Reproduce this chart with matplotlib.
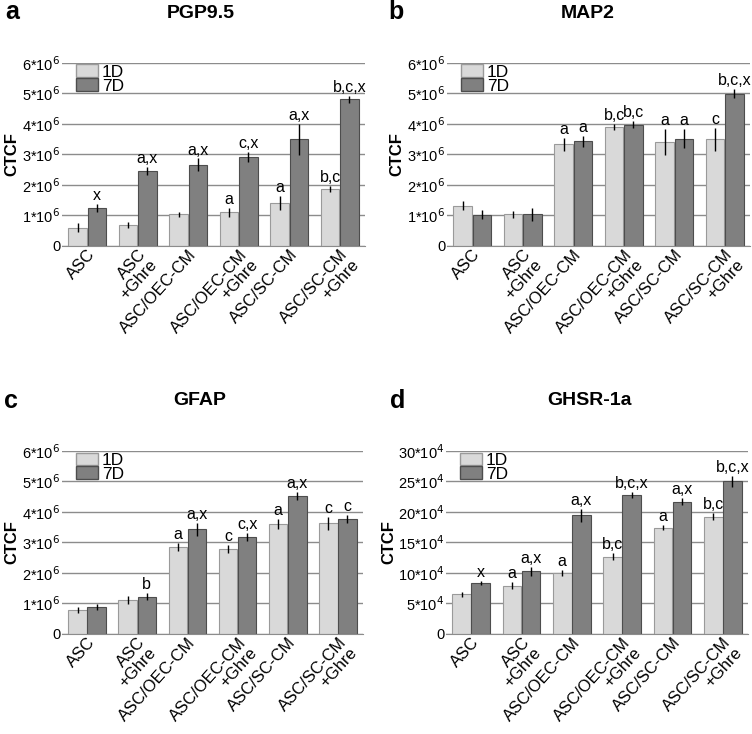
import numpy as np
import matplotlib
matplotlib.use('Agg')
import matplotlib.pyplot as plt
from matplotlib.patches import Patch

plt.rcParams['font.family'] = ['Liberation Sans', 'DejaVu Sans']

groups = ['ASC', 'ASC\n+Ghre', 'ASC/OEC-CM', 'ASC/OEC-CM\n+Ghre',
          'ASC/SC-CM', 'ASC/SC-CM\n+Ghre']

# PGP9.5 (x10^6)
pgp_1d = [0.59, 0.67, 1.03, 1.09, 1.40, 1.85]
pgp_1d_err = [0.14, 0.10, 0.08, 0.15, 0.22, 0.10]
pgp_7d = [1.23, 2.45, 2.66, 2.91, 3.49, 4.80]
pgp_7d_err = [0.13, 0.14, 0.20, 0.15, 0.50, 0.12]
pgp_1d_lab = ['', '', '', 'a', 'a', 'b,c']
pgp_7d_lab = ['x', 'a,x', 'a,x', 'c,x', 'a,x', 'b,c,x']

# MAP2 (x10^6)
map_1d = [1.31, 1.03, 3.32, 3.89, 3.41, 3.49]
map_1d_err = [0.14, 0.12, 0.20, 0.10, 0.43, 0.37]
map_7d = [1.02, 1.03, 3.42, 3.97, 3.51, 4.99]
map_7d_err = [0.16, 0.22, 0.17, 0.12, 0.32, 0.14]
map_1d_lab = ['', '', 'a', 'b,c', 'a', 'c']
map_7d_lab = ['', '', 'a', 'b,c', 'a', 'b,c,x']

# GFAP (x10^6)
gfap_1d = [0.78, 1.11, 2.84, 2.78, 3.61, 3.62]
gfap_1d_err = [0.10, 0.13, 0.14, 0.12, 0.16, 0.21]
gfap_7d = [0.88, 1.22, 3.43, 3.18, 4.51, 3.76]
gfap_7d_err = [0.09, 0.11, 0.22, 0.14, 0.13, 0.14]
gfap_1d_lab = ['', '', 'a', 'c', 'a', 'c']
gfap_7d_lab = ['', 'b', 'a,x', 'c,x', 'a,x', 'c']

# GHSR-1a (x10^4)
ghsr_1d = [6.46, 7.88, 9.96, 12.65, 17.41, 19.22]
ghsr_1d_err = [0.40, 0.60, 0.45, 0.55, 0.45, 0.60]
ghsr_7d = [8.38, 10.24, 19.43, 22.77, 21.68, 25.02]
ghsr_7d_err = [0.35, 0.70, 1.05, 0.50, 0.60, 0.90]
ghsr_1d_lab = ['', 'a', 'a', 'b,c', 'a', 'b,c']
ghsr_7d_lab = ['x', 'a,x', 'a,x', 'b,c,x', 'a,x', 'b,c,x']

yticks_m = [0, 1, 2, 3, 4, 5, 6]
yticks_m_lab = ['0'] + ['%d*10$^6$' % v for v in yticks_m[1:]]
yticks_g = [0, 5, 10, 15, 20, 25, 30]
yticks_g_lab = ['0'] + ['%d*10$^4$' % v for v in yticks_g[1:]]

c1 = '#d9d9d9'
e1 = '#9a9a9a'
c7 = '#808080'
e7 = '#4d4d4d'
gridc = '#8c8c8c'

fig = plt.figure(figsize=(7.52, 7.34), dpi=100)

W = 752.0
H = 734.0


def box(l, r, t, b):
    return [l / W, 1 - b / H, (r - l) / W, (b - t) / H]


panels = [
    (box(62, 365, 62.7, 245.7), 'a', 'PGP9.5', pgp_1d, pgp_1d_err, pgp_7d, pgp_7d_err,
     pgp_1d_lab, pgp_7d_lab, yticks_m, yticks_m_lab, (12, 12), (201, 13), -0.165),
    (box(447, 750, 62.7, 245.7), 'b', 'MAP2', map_1d, map_1d_err, map_7d, map_7d_err,
     map_1d_lab, map_7d_lab, yticks_m, yticks_m_lab, (396, 12), (588, 13), -0.165),
    (box(62, 363, 451, 633.7), 'c', 'GFAP', gfap_1d, gfap_1d_err, gfap_7d, gfap_7d_err,
     gfap_1d_lab, gfap_7d_lab, yticks_m, yticks_m_lab, (11, 401), (200, 400), -0.165),
    (box(446, 748, 451, 633.7), 'd', 'GHSR-1a', ghsr_1d, ghsr_1d_err, ghsr_7d, ghsr_7d_err,
     ghsr_1d_lab, ghsr_7d_lab, yticks_g, yticks_g_lab, (398, 401), (589, 400), -0.19),
]

x = np.arange(len(groups))
bw = 0.37
off = 0.19

for (rect, letter, title, v1, s1, v7, s7, l1, l7, yt, ytl, lpos, tpos, labx) in panels:
    ax = fig.add_axes(rect)
    ax.set_axisbelow(True)
    ax.bar(x - off, v1, bw, color=c1, edgecolor=e1, linewidth=0.8, zorder=2)
    ax.bar(x + off, v7, bw, color=c7, edgecolor=e7, linewidth=0.8, zorder=2)
    ax.errorbar(x - off, v1, yerr=s1, fmt='none', ecolor='black', elinewidth=1,
                capsize=0, zorder=3)
    ax.errorbar(x + off, v7, yerr=s7, fmt='none', ecolor='black', elinewidth=1,
                capsize=0, zorder=3)
    top = yt[-1]
    for i in range(len(groups)):
        if l1[i]:
            ax.text(x[i] - off, v1[i] + s1[i] + top * 0.005, l1[i], ha='center',
                    va='bottom', fontsize=11.5)
        if l7[i]:
            ax.text(x[i] + off, v7[i] + s7[i] + top * 0.005, l7[i], ha='center',
                    va='bottom', fontsize=11.5)
    ax.set_xlim(-0.5, 5.5)
    ax.set_ylim(0, top)
    ax.set_yticks(yt)
    ax.set_yticklabels(ytl, fontsize=10.5)
    ax.yaxis.grid(True, color=gridc, linewidth=1)
    ax.tick_params(axis='y', length=0, pad=1)
    ax.tick_params(axis='x', length=0, pad=1)
    ax.set_xticks(x)
    ax.set_xticklabels(groups, rotation=48, ha='right', rotation_mode='anchor',
                       fontsize=12, multialignment='right', linespacing=0.95)
    for sp in ['top', 'right', 'left']:
        ax.spines[sp].set_visible(False)
    ax.spines['bottom'].set_color(gridc)
    ax.set_ylabel('CTCF', fontsize=12, fontweight='bold', va='center')
    ax.yaxis.set_label_coords(labx, 0.5)
    handles = [Patch(facecolor=c1, edgecolor=e1), Patch(facecolor=c7, edgecolor=e7)]
    ax.legend(handles, ['1D', '7D'], loc='upper left', bbox_to_anchor=(0.04, 1.0),
              frameon=False, fontsize=12.5, handlelength=1.3, handleheight=0.75,
              labelspacing=-0.1, handletextpad=0.2, borderpad=0.1,
              borderaxespad=0)
    fig.text(lpos[0] / W, 1 - lpos[1] / H, letter, fontsize=18, fontweight='bold',
             ha='center', va='center')
    fig.text(tpos[0] / W, 1 - tpos[1] / H, title, fontsize=14, fontweight='bold',
             ha='center', va='center')

fig.savefig('out.png', dpi=100)
